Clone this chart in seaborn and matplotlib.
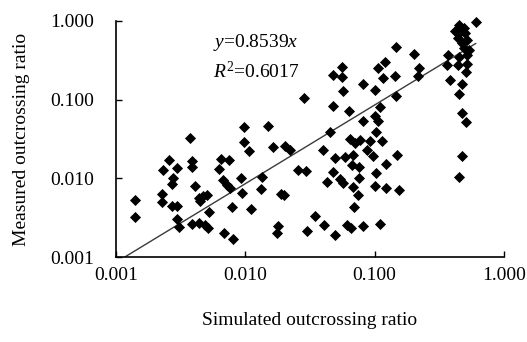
import matplotlib
matplotlib.use("Agg")
import matplotlib.pyplot as plt
import matplotlib.ticker as mticker
import numpy as np
import pandas as pd
import seaborn as sns

# Simulated vs. measured outcrossing ratios for each sampled site
simulated = [
    0.00373, 0.00257, 0.00231, 0.00296, 0.00276, 0.00271, 0.00387, 0.00387, 0.00408,
    0.00649, 0.00748, 0.00626, 0.00672, 0.00722, 0.00762, 0.00140, 0.00140, 0.00227,
    0.00227, 0.00271, 0.00296, 0.00296, 0.00307, 0.00438, 0.00471, 0.00505, 0.00446,
    0.00524, 0.00387, 0.00438, 0.00488, 0.00515, 0.00684, 0.00803, 0.00789, 0.00926,
    0.00977, 0.0150, 0.00977, 0.0107, 0.0164, 0.0203, 0.0222, 0.0284, 0.0135,
    0.0132, 0.00943, 0.0111, 0.0189, 0.0199, 0.0179, 0.0176, 0.0256, 0.0295, 0.0300,
    0.0560, 0.0477, 0.0560, 0.0570, 0.0813, 0.1007, 0.120, 0.106, 0.116,
    0.0477, 0.0634, 0.110, 0.1007, 0.0813, 0.106, 0.146, 0.202, 0.144,
    0.220, 0.217, 0.146, 0.0452, 0.0645, 0.0771, 0.1025, 0.114, 0.0921,
    0.0705, 0.0399, 0.0494, 0.0590, 0.0680, 0.0873, 0.0972, 0.149, 0.122,
    0.0669, 0.0757, 0.0477, 0.0429, 0.0540, 0.0570, 0.0757, 0.1025, 0.0680,
    0.1007, 0.122, 0.154, 0.0744, 0.0693, 0.0346, 0.0406, 0.0494, 0.0612,
    0.0657, 0.0813, 0.110,
    0.608, 0.450, 0.491, 0.457, 0.500, 0.442, 0.518, 0.474, 0.491, 0.518,
    0.450, 0.518, 0.442, 0.509, 0.370, 0.363, 0.383, 0.474, 0.450, 0.474,
    0.509, 0.474, 0.450, 0.419, 0.537,
]
measured = [
    0.0325, 0.0171, 0.0127, 0.0135, 0.0101, 0.00847, 0.0166, 0.0139, 0.00798,
    0.0176, 0.0171, 0.0131, 0.00951, 0.00822, 0.00753, 0.00530, 0.00322, 0.00632,
    0.00500, 0.00445, 0.00445, 0.00304, 0.00240, 0.00562, 0.00596, 0.00614, 0.00515,
    0.00373, 0.00263, 0.00270, 0.00255, 0.00234, 0.00202, 0.00169, 0.00432, 0.0101,
    0.0449, 0.0462, 0.0289, 0.0222, 0.0250, 0.0257, 0.0229, 0.105, 0.0104,
    0.00731, 0.00650, 0.00407, 0.00632, 0.00614, 0.00248, 0.00202, 0.0127, 0.0124, 0.00214,
    0.259, 0.205, 0.194, 0.129, 0.158, 0.132, 0.300, 0.252, 0.188,
    0.0829, 0.0716, 0.0805, 0.0620, 0.0535, 0.0535, 0.466, 0.380, 0.200,
    0.252, 0.200, 0.111, 0.0387, 0.0316, 0.0307, 0.0387, 0.0298, 0.0298,
    0.0281, 0.0229, 0.0181, 0.0187, 0.0198, 0.0229, 0.0192, 0.0198, 0.0152,
    0.0148, 0.0139, 0.0120, 0.00897, 0.00980, 0.00871, 0.0101, 0.0117, 0.00775,
    0.00798, 0.00753, 0.00710, 0.00614, 0.00432, 0.00332, 0.00255, 0.00190, 0.00255,
    0.00234, 0.00248, 0.00263,
    0.980, 0.887, 0.812, 0.723, 0.702, 0.607, 0.571, 0.524, 0.453, 0.369,
    0.348, 0.283, 0.275, 0.224, 0.369, 0.275, 0.177, 0.158, 0.118, 0.0676,
    0.0519, 0.0192, 0.0104, 0.750, 0.430,
]

slope = 0.8539
r_squared = 0.6017
tick_values = [0.001, 0.01, 0.1, 1.0]
tick_labels = ["0.001", "0.010", "0.100", "1.000"]

df = pd.DataFrame({"simulated": simulated, "measured": measured})

sns.set_theme(style="ticks")
plt.rcParams["font.family"] = ["Liberation Serif", "DejaVu Serif"]
plt.rcParams["mathtext.fontset"] = "custom"
plt.rcParams["mathtext.rm"] = "Liberation Serif"
plt.rcParams["mathtext.it"] = "Liberation Serif:italic"

fig, ax = plt.subplots(figsize=(5.27, 3.42), dpi=100)
fig.subplots_adjust(left=0.220, right=0.956, top=0.9386, bottom=0.2485)

sns.scatterplot(data=df, x="simulated", y="measured", marker="D", color="black",
                s=32, linewidth=0, ax=ax, clip_on=False, zorder=3)

# fitted line through the origin, drawn from the lower axis edge to the largest x
x_lo = 0.001 / slope
x_hi = max(simulated)
fit = pd.DataFrame({"x": [x_lo, x_hi], "y": [slope * x_lo, slope * x_hi]})
sns.lineplot(data=fit, x="x", y="y", color="#3a3a3a", linewidth=1.0, ax=ax, zorder=2)

ax.set_xscale("log")
ax.set_yscale("log")
ax.set_xlim(0.001, 1.0)
ax.set_ylim(0.001, 1.0)
ax.set_xticks(tick_values)
ax.set_xticklabels(tick_labels)
ax.set_yticks(tick_values)
ax.set_yticklabels(tick_labels)
ax.xaxis.set_minor_locator(mticker.NullLocator())
ax.yaxis.set_minor_locator(mticker.NullLocator())

ax.tick_params(axis="both", direction="in", length=4, width=1.0, colors="black",
               labelsize=14, labelcolor="black")
ax.tick_params(axis="x", pad=7)
ax.tick_params(axis="y", pad=16)

for side in ["top", "right"]:
    ax.spines[side].set_visible(False)
for side in ["left", "bottom"]:
    ax.spines[side].set_color("black")
    ax.spines[side].set_linewidth(1.2)

ax.set_xlabel("Simulated outcrossing ratio", fontsize=14, color="black")
ax.set_ylabel("Measured outcrossing ratio", fontsize=14, color="black")
ax.xaxis.set_label_coords(0.5, -0.235)
ax.yaxis.set_label_coords(-0.222, 0.5)

ax.text(0.25, 0.911, r"$y$=%.4f$x$" % slope, transform=ax.transAxes,
        fontsize=14, ha="left", va="center", color="black")
ax.text(0.25, 0.784, r"$R^{\mathregular{2}}$=%.4f" % r_squared, transform=ax.transAxes,
        fontsize=14, ha="left", va="center", color="black")

fig.savefig("out.png", dpi=100, facecolor="white")
